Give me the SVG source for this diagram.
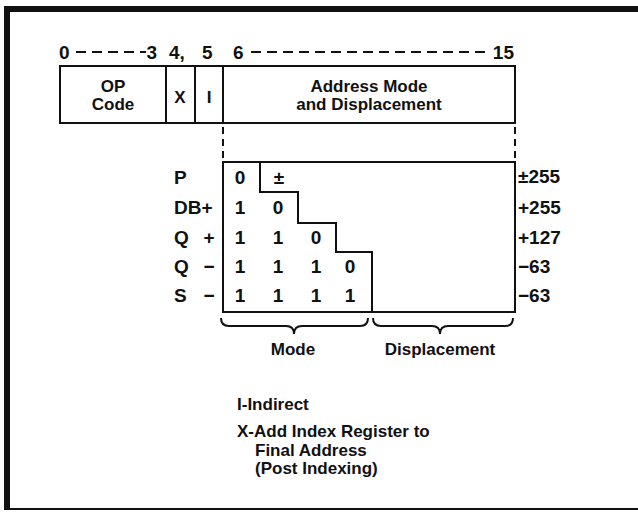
<svg xmlns="http://www.w3.org/2000/svg" width="638" height="512" viewBox="0 0 638 512">
<style>
text{font-family:"Liberation Sans",Arial,sans-serif;font-weight:bold;font-size:17px;fill:#111}
.b{font-size:19px}
.m{text-anchor:middle}
.e{text-anchor:end}
.ln{fill:none;stroke:#111;stroke-width:2}
.ds{fill:none;stroke:#111;stroke-width:2;stroke-dasharray:7,5}
.dt{fill:none;stroke:#111;stroke-width:2;stroke-dasharray:10,6}
</style>
<rect width="638" height="512" fill="#fff"/>
<g id="frame">
<rect x="4" y="6" width="634" height="6" fill="#111"/>
<rect x="4" y="6" width="6" height="504" fill="#111"/>
<line x1="4" y1="509" x2="638" y2="509" stroke="#111" stroke-width="2"/>
</g>
<g id="bit-numbers">
<text x="59" y="59" class="b">0</text>
<line class="dt" x1="76" y1="52" x2="146" y2="52"/>
<text x="157" y="59" class="b e">3</text>
<text x="169" y="59" class="b">4,</text>
<text x="202" y="59" class="b">5</text>
<text x="233" y="59" class="b">6</text>
<line class="dt" x1="251" y1="52" x2="487" y2="52"/>
<text x="514" y="59" class="b e">15</text>
</g>
<g id="instruction-word">
<rect class="ln" x="60" y="66" width="455" height="57"/>
<line class="ln" x1="166" y1="66" x2="166" y2="123"/>
<line class="ln" x1="195" y1="66" x2="195" y2="123"/>
<line class="ln" x1="223" y1="66" x2="223" y2="123"/>
<text x="113" y="92" class="m">OP</text>
<text x="113" y="110" class="m">Code</text>
<text x="180" y="103" class="m">X</text>
<text x="209" y="103" class="m">I</text>
<text x="369" y="92" class="m">Address Mode</text>
<text x="369" y="110" class="m">and Displacement</text>
</g>
<g id="connectors">
<line class="ds" x1="223" y1="127" x2="223" y2="162"/>
<line class="ds" x1="515" y1="127" x2="515" y2="162"/>
</g>
<g id="mode-table">
<rect class="ln" x="223" y="162" width="292" height="150"/>
<path class="ln" d="M260,162 V192 H298 V223 H336 V252 H372 V312"/>
<text x="174" y="184" class="b">P</text>
<text x="174" y="214" class="b">DB+</text>
<text x="174" y="244" class="b">Q</text><text x="209" y="244" class="b m">+</text>
<text x="174" y="273" class="b">Q</text><text x="209" y="273" class="b m">−</text>
<text x="174" y="302" class="b">S</text><text x="209" y="302" class="b m">−</text>
<text x="240" y="184" class="b m">0</text><text x="279" y="184" class="b m">±</text>
<text x="240" y="214" class="b m">1</text><text x="278" y="214" class="b m">0</text>
<text x="240" y="244" class="b m">1</text><text x="278" y="244" class="b m">1</text><text x="316" y="244" class="b m">0</text>
<text x="240" y="273" class="b m">1</text><text x="278" y="273" class="b m">1</text><text x="316" y="273" class="b m">1</text><text x="350" y="273" class="b m">0</text>
<text x="240" y="302" class="b m">1</text><text x="278" y="302" class="b m">1</text><text x="316" y="302" class="b m">1</text><text x="350" y="302" class="b m">1</text>
<text x="518" y="183" class="b">±255</text>
<text x="518" y="214" class="b">+255</text>
<text x="518" y="244" class="b">+127</text>
<text x="518" y="273" class="b">−63</text>
<text x="518" y="302" class="b">−63</text>
</g>
<g id="braces">
<path class="ln" d="M221,318 Q221,326 229,326 H286 Q294,326 294,334 Q294,326 302,326 H360 Q368,326 368,318"/>
<path class="ln" d="M373,318 Q373,326 381,326 H432 Q440,326 440,334 Q440,326 448,326 H505 Q513,326 513,318"/>
<text x="293" y="355" class="m">Mode</text>
<text x="440" y="355" class="m">Displacement</text>
</g>
<g id="legend">
<text x="237" y="410">I-Indirect</text>
<text x="237" y="437">X-Add Index Register to</text>
<text x="255" y="456">Final Address</text>
<text x="255" y="474">(Post Indexing)</text>
</g>
</svg>
